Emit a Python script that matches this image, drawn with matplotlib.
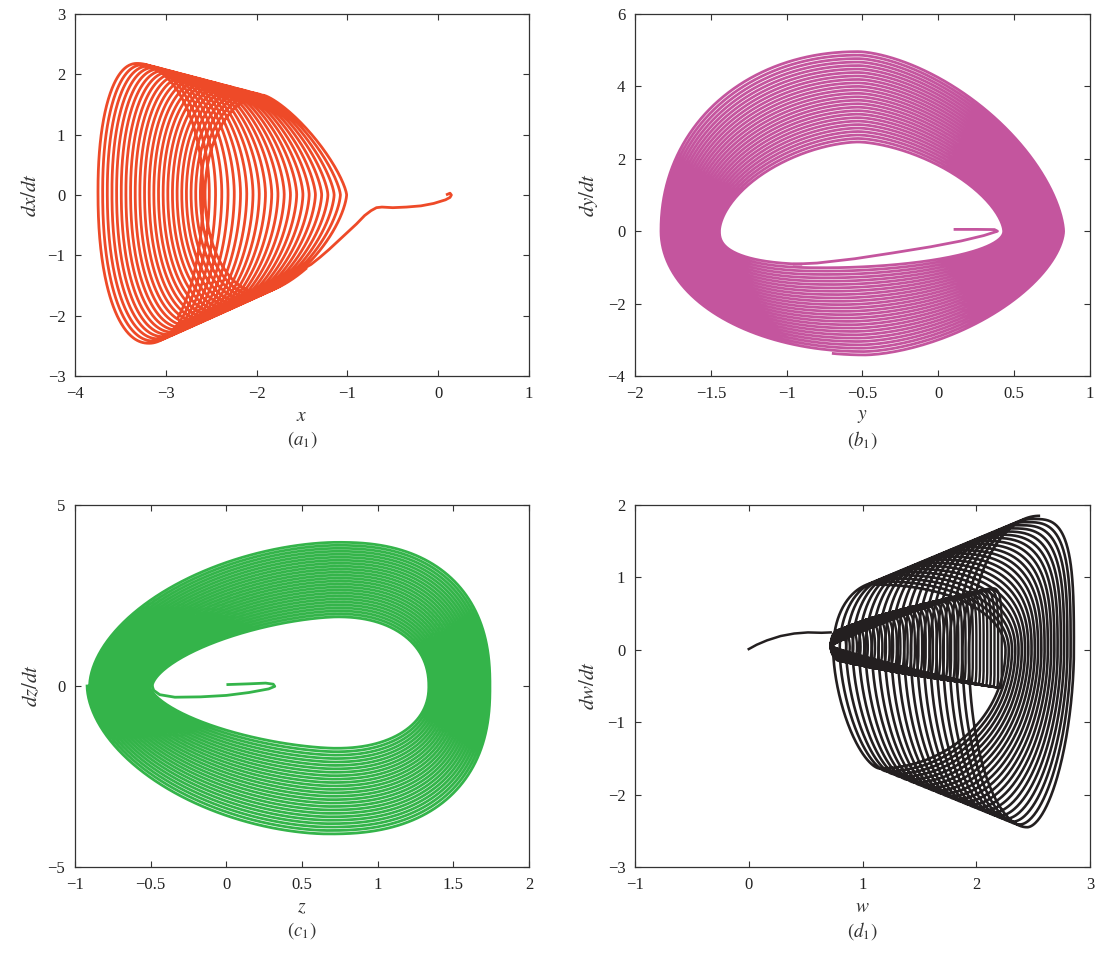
import numpy as np
import matplotlib
matplotlib.use("Agg")
import matplotlib.pyplot as plt

plt.rcParams['font.family'] = ['Liberation Serif', 'DejaVu Serif']
plt.rcParams['mathtext.fontset'] = 'stix'

# each loop is given by its four extreme points:
# [left x, left y, top x, top y, right x, right y, bottom x, bottom y]
# and one superellipse exponent per quarter (top->right, right->bottom,
# bottom->left, left->top). The orbit winds from the first loop to the last.

# (a1) x vs dx/dt
a_first = [-2.55, 0.0, -1.89, 1.64, -0.95, 0.0, -1.95, -1.62]
a_last = [-3.78, 0.0, -3.34, 2.19, -2.60, 0.0, -3.23, -2.49]
a_n_first = [1.3, 1.5, 2.0, 2.0]
a_n_last = [2.0, 2.0, 2.2, 2.2]
a_turns = 24
a_tr_x = [0.10, 0.13, 0.145, 0.13, 0.08, -0.05, -0.19, -0.35, -0.50, -0.62,
          -0.68, -0.74, -0.81, -0.90, -1.00, -1.10, -1.20, -1.30, -1.40, -1.47]
a_tr_y = [0.01, 0.03, 0.0, -0.04, -0.08, -0.14, -0.18, -0.20, -0.21, -0.20,
          -0.21, -0.26, -0.34, -0.48, -0.62, -0.76, -0.90, -1.03, -1.15, -1.21]

# (b1) y vs dy/dt
b_first = [-1.44, 0.0, -0.53, 2.42, 0.42, 0.0, -0.75, -0.92]
b_last = [-1.84, 0.0, -0.53, 5.01, 0.83, 0.0, -0.48, -3.42]
b_n_first = [1.6, 2.0, 2.5, 1.7]
b_n_last = [1.6, 1.65, 2.0, 2.1]
b_turns = 27
b_tr_x = [0.11, 0.25, 0.37, 0.39, 0.30, 0.15, -0.05, -0.30, -0.55, -0.80, -0.95]
b_tr_y = [0.05, 0.05, 0.045, 0.0, -0.12, -0.27, -0.43, -0.60, -0.76, -0.88, -0.91]

# (c1) z vs dz/dt
c_first = [-0.49, 0.0, 0.73, 1.89, 1.33, 0.0, 0.73, -1.65]
c_last = [-0.92, 0.0, 0.73, 4.03, 1.75, 0.0, 0.68, -4.11]
c_n_first = [2.2, 2.2, 1.6, 1.6]
c_n_last = [2.4, 2.4, 1.8, 1.8]
c_turns = 26
c_tr_x = [0.01, 0.15, 0.26, 0.31, 0.32, 0.28, 0.15, 0.0, -0.17, -0.34, -0.44, -0.48, -0.49]
c_tr_y = [0.04, 0.06, 0.08, 0.05, -0.01, -0.08, -0.18, -0.26, -0.30, -0.31, -0.24, -0.12, 0.0]

# (d1) w vs dw/dt: a narrow inner funnel and the wide outer rings
d_in_first = [0.72, 0.05, 0.78, 0.27, 0.84, 0.05, 0.78, -0.15]
d_in_last = [0.72, 0.05, 2.15, 0.86, 2.24, 0.15, 2.22, -0.53]
d_in_n_first = [2.0, 2.0, 2.0, 2.0]
d_in_n_last = [4.0, 3.0, 1.1, 1.1]
d_in_turns = 44
d_out_first = [0.70, 0.0, 1.12, 0.90, 2.25, 0.0, 1.12, -1.62]
d_out_last = [1.95, 0.0, 2.55, 1.85, 2.88, 0.0, 2.48, -2.47]
d_out_n_first = [2.0, 2.0, 1.6, 2.2]
d_out_n_last = [3.5, 1.8, 2.0, 2.0]
d_out_turns = 22
d_tr_x = [0.0, 0.07, 0.16, 0.28, 0.40, 0.52, 0.64, 0.72]
d_tr_y = [0.01, 0.07, 0.13, 0.19, 0.225, 0.24, 0.235, 0.24]

red = '#ee4a28'
magenta = '#c4559e'
green = '#34b44a'
black = '#231f20'


def loop_spiral(first, last, n_first, n_last, turns, start, steps=90):
    first = np.asarray(first, float)
    last = np.asarray(last, float)
    n_first = np.asarray(n_first, float)
    n_last = np.asarray(n_last, float)
    tau = np.linspace(start, start + 4 * turns, int(4 * turns * steps) + 1)
    s = (tau - start) / (4 * turns)
    L, yl, xt, yt, R, yr, xb, yb = first[:, None] * (1 - s) + last[:, None] * s
    ex = 2.0 / (n_first[:, None] * (1 - s) + n_last[:, None] * s)
    q = np.floor(tau).astype(int) % 4
    u = (tau - np.floor(tau)) * np.pi / 2
    e = ex[q, np.arange(len(tau))]
    cp = np.clip(np.cos(u), 0, 1) ** e
    sp = np.clip(np.sin(u), 0, 1) ** e
    conds = [q == 0, q == 1, q == 2, q == 3]
    x = np.select(conds, [xt + (R - xt) * sp, xb + (R - xb) * cp,
                          xb + (L - xb) * sp, xt + (L - xt) * cp])
    y = np.select(conds, [yr + (yt - yr) * cp, yr + (yb - yr) * sp,
                          yl + (yb - yl) * cp, yl + (yt - yl) * sp])
    return x, y


def tick_text(v):
    return ('%g' % v).replace('-', '\u2212')


def setup(ax, xlim, ylim, xticks, yticks, xlab, ylab, tag, ylab_off):
    ax.set_xlim(xlim)
    ax.set_ylim(ylim)
    ax.set_xticks(xticks)
    ax.set_yticks(yticks)
    ax.set_xticklabels([tick_text(v) for v in xticks])
    ax.set_yticklabels([tick_text(v) for v in yticks])
    ax.tick_params(direction='in', top=True, right=True, length=4.5, width=0.8,
                   color='#333333', labelsize=12, pad=7, labelcolor='#222222')
    for sp in ax.spines.values():
        sp.set_linewidth(0.9)
        sp.set_color('#333333')
    ax.text(0.5, -0.112, xlab, transform=ax.transAxes, ha='center', va='center',
            fontsize=14, color='#333333')
    ax.text(0.5, -0.176, tag, transform=ax.transAxes, ha='center', va='center',
            fontsize=13.5, color='#333333')
    ax.text(ylab_off, 0.5, ylab, transform=ax.transAxes, ha='center', va='center',
            rotation=90, fontsize=15, color='#333333')


fig = plt.figure(figsize=(10.99, 9.58), dpi=100)
W, H = 1099.0, 958.0


def box(l, t, r, b):
    return [l / W, 1 - b / H, (r - l) / W, (b - t) / H]


ax_a = fig.add_axes(box(75, 14, 529, 376))
ax_b = fig.add_axes(box(635, 14, 1090, 376))
ax_c = fig.add_axes(box(75, 505, 529, 867))
ax_d = fig.add_axes(box(635, 505, 1090, 867))

lw = 2.0

# (a1)
ax_a.plot(a_tr_x, a_tr_y, color=red, lw=lw)
x, y = loop_spiral(a_first, a_last, a_n_first, a_n_last, a_turns, 1.6)
ax_a.plot(x, y, color=red, lw=lw)
setup(ax_a, (-4, 1), (-3, 3), [-4, -3, -2, -1, 0, 1], [-3, -2, -1, 0, 1, 2, 3],
      '$x$', '$dx/dt$', '$(a_1)$', -43 / 454)

# (b1)
ax_b.plot(b_tr_x, b_tr_y, color=magenta, lw=lw)
x, y = loop_spiral(b_first, b_last, b_n_first, b_n_last, b_turns, 2.1)
ax_b.plot(x, y, color=magenta, lw=lw)
setup(ax_b, (-2, 1), (-4, 6), [-2, -1.5, -1, -0.5, 0, 0.5, 1], [-4, -2, 0, 2, 4, 6],
      '$y$', '$dy/dt$', '$(b_1)$', -46 / 455)

# (c1)
ax_c.plot(c_tr_x, c_tr_y, color=green, lw=lw)
x, y = loop_spiral(c_first, c_last, c_n_first, c_n_last, c_turns, 3.0)
ax_c.plot(x, y, color=green, lw=lw)
setup(ax_c, (-1, 2), (-5, 5), [-1, -0.5, 0, 0.5, 1, 1.5, 2], [-5, 0, 5],
      '$z$', '$dz/dt$', '$(c_1)$', -43 / 454)

# (d1)
ax_d.plot(d_tr_x, d_tr_y, color=black, lw=1.8)
x, y = loop_spiral(d_in_first, d_in_last, d_in_n_first, d_in_n_last, d_in_turns, 3.0)
ax_d.plot(x, y, color=black, lw=1.7)
x, y = loop_spiral(d_out_first, d_out_last, d_out_n_first, d_out_n_last, d_out_turns, 0.0)
ax_d.plot(x, y, color=black, lw=1.9)
setup(ax_d, (-1, 3), (-3, 2), [-1, 0, 1, 2, 3], [-3, -2, -1, 0, 1, 2],
      '$w$', '$dw/dt$', '$(d_1)$', -46 / 455)

fig.savefig('out.png', dpi=100)
